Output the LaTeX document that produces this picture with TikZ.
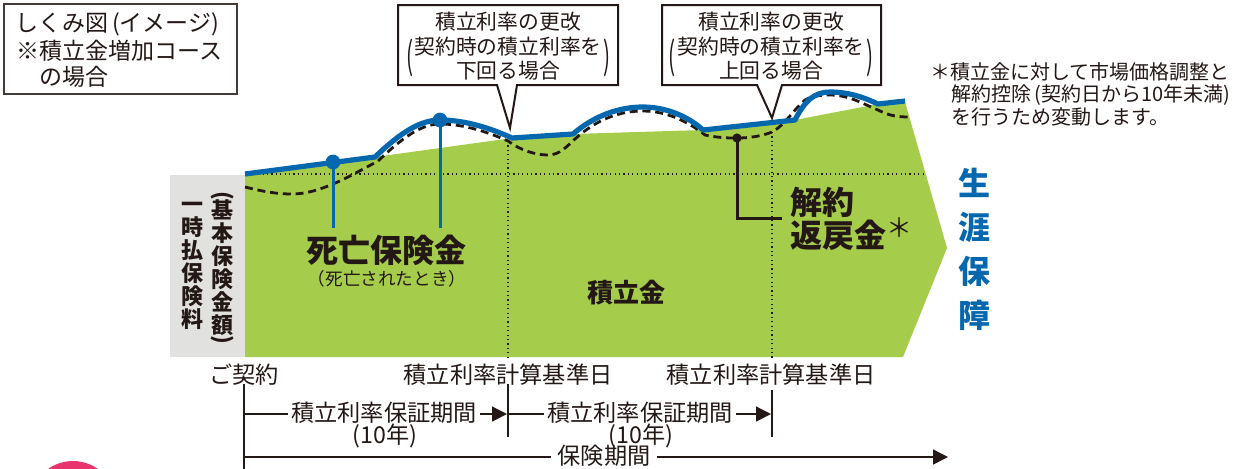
\documentclass[tikz,border=0pt]{standalone}
\usepackage{fontspec}
\setmainfont{Noto Sans CJK JP}
\usetikzlibrary{arrows.meta}
\definecolor{lgreen}{HTML}{A5CC4B}
\definecolor{lblue}{HTML}{0567AE}
\definecolor{lgray}{HTML}{E1E2E0}
\definecolor{ink}{HTML}{231815}
\definecolor{lpink}{HTML}{E8336E}
\begin{document}
\begin{tikzpicture}[x=0.5pt,y=-0.5pt,
  every node/.style={inner sep=0pt,text=ink},
  fbox/.style={font=\fontsize{11.5}{13}\selectfont},
  fcall/.style={font=\fontsize{10.4}{12}\selectfont},
  fnote/.style={font=\fontsize{10}{12}\selectfont},
  fbig/.style={font=\fontsize{16}{18}\selectfont\bfseries},
  fsmall/.style={font=\fontsize{8.8}{10}\selectfont},
  fmid/.style={font=\fontsize{13}{15}\selectfont\bfseries},
  ftime/.style={font=\fontsize{11.6}{13}\selectfont},
  fvert/.style={font=\fontsize{11}{11.5}\selectfont\bfseries, align=center},
  fvblue/.style={font=\fontsize{16}{22}\selectfont\bfseries, align=center, text=lblue},
  tline/.style={draw=ink, line width=0.65pt},
  dotline/.style={draw=ink, line width=0.6pt, dash pattern=on 0.6pt off 1.6pt},
  blueline/.style={draw=lblue, line width=2.6pt, line join=round},
  dashline/.style={draw=ink, line width=1.4pt, dash pattern=on 4pt off 2.4pt},
  callout/.style={draw=ink, fill=white, line width=1pt, line join=miter},
  tri/.style={-{Triangle[length=7.5pt,width=7.5pt]}},
]
\useasboundingbox (0,0) rectangle (1234,468);
\clip (0,0) rectangle (1234,468);

% pink circle
\fill[lpink] (73,504) circle[radius=21.5pt];

% top-left box
\draw[draw=ink!85, line width=0.8pt] (4,4) rectangle (237,94);
\node[fbox, anchor=west] (b1) at (15,24) {しくみ図\,(イメージ)};
\node[fbox, anchor=west] (b2) at (16,51) {※積立金増加コース};
\node[fbox, anchor=west] (b3) at (39,77) {の場合};

% areas
\fill[lgray] (170,175) rectangle (245,357);
\fill[lgreen] (245,174) -- (375,157) -- (512,138) -- (573,134) -- (703,130) -- (795,120) -- (878,104) -- (905,102) -- (947,248) -- (903,357) -- (245,357) -- cycle;

% dotted guides
\draw[dotline] (245,174) -- (925,174);
\draw[dotline] (508,141) -- (508,360);
\draw[dotline] (772,132) -- (772,360);

% dashed curve
\draw[dashline] (245,187) .. controls (265,192) and (278,194) .. (292,194)
  .. controls (320,194) and (350,176) .. (378,161)
  .. controls (400,140) and (420,124) .. (440,124)
  .. controls (465,124) and (490,133) .. (508,141)
  .. controls (520,150) and (535,155) .. (548,155)
  .. controls (560,155) and (567,146) .. (575,139)
  .. controls (597,119) and (620,111) .. (643,111)
  .. controls (668,111) and (690,123) .. (705,135)
  .. controls (720,138) and (728,138) .. (737,138)
  .. controls (750,138) and (762,136) .. (772,132)
  .. controls (785,125) and (795,108) .. (805,100)
  .. controls (812,96) and (820,95) .. (830,95)
  .. controls (850,95) and (865,105) .. (878,110)
  .. controls (888,115) and (895,117) .. (910,117);

% blue curve
\draw[blueline] (245,174) -- (375,157)
  .. controls (400,133) and (420,120) .. (440,120)
  .. controls (465,120) and (490,128) .. (512,138) -- (573,134)
  .. controls (595,115) and (620,107) .. (643,107)
  .. controls (668,107) and (690,118) .. (703,130) -- (795,120)
  .. controls (805,100) and (815,92) .. (830,92)
  .. controls (850,92) and (865,98) .. (878,104) -- (905,101);

% markers
\node[circle, fill=lblue, minimum size=7.4pt] (d1) at (333,162) {};
\coordinate (d1b) at (333,228);
\draw[lblue, line width=1.5pt] (d1.center) -- (d1b);
\node[circle, fill=lblue, minimum size=7.4pt] (d2) at (440,120) {};
\coordinate (d2b) at (440,228);
\draw[lblue, line width=1.5pt] (d2.center) -- (d2b);
\node[circle, fill=ink, minimum size=4.6pt] (d3) at (737,138) {};
\coordinate (d3b) at (737,218);
\coordinate (d3c) at (782,218);
\draw[ink, line width=1.5pt] (d3.center) -- (d3b) -- (d3c);

% texts in chart
\node[fbig] (shibo) at (386,250) {死亡保険金};
\node[fsmall] (shibo2) at (387,279) {（死亡されたとき）};
\node[fmid] (tsumi) at (626,293) {積立金};
\node[fbig, anchor=west] (kai1) at (790,202) {解約};
\node[fbig, anchor=west] (kai2) at (790,234) {返戻金\raisebox{0.3em}{\mdseries\fontsize{13}{13}\selectfont ＊}};

% vertical texts
\node[fvert] (v1) at (192,266) {一\\時\\払\\保\\険\\料};
\node[fvert] (v2) at (222,268) {基\\本\\保\\険\\金\\額};
\node[fvert, rotate=-90] (v2a) at (222,196) {(};
\node[fvert, rotate=-90] (v2b) at (222,340) {)};
\node[fvblue] (sho) at (974,249) {生\\涯\\保\\障};

% callout 1
\draw[callout] (398,5) -- (618,5) -- (618,85) -- (517,85) -- (510,128) -- (497,85) -- (398,85) -- cycle;
\node[fcall] (c1a) at (508,22) {積立利率の更改};
\node[fcall] (c1b) at (508,47) {契約時の積立利率を};
\node[fcall] (c1c) at (508,71) {下回る場合};
\node[fcall] (c1l) at (410,58) {\scalebox{1}[1.8]{(}};
\node[fcall] (c1r) at (607,58) {\scalebox{1}[1.8]{)}};

% callout 2
\draw[callout] (662,5) -- (881,5) -- (881,85) -- (782,85) -- (772,118) -- (757,85) -- (662,85) -- cycle;
\node[fcall] (c2a) at (771,22) {積立利率の更改};
\node[fcall] (c2b) at (771,47) {契約時の積立利率を};
\node[fcall] (c2c) at (771,71) {上回る場合};
\node[fcall] (c2l) at (672,58) {\scalebox{1}[1.8]{(}};
\node[fcall] (c2r) at (870,58) {\scalebox{1}[1.8]{)}};

% note
\node[fnote, anchor=west] (n1) at (930,72) {＊積立金に対して市場価格調整と};
\node[fnote, anchor=west] (n2) at (951,95) {解約控除\,(契約日から10年未満)};
\node[fnote, anchor=west] (n3) at (951,117) {を行うため変動します。};

% timeline labels
\node[ftime] (k0) at (244,375) {ご契約};
\node[ftime] (k1) at (508,375) {積立利率計算基準日};
\node[ftime] (k2) at (771,375) {積立利率計算基準日};

\coordinate (v0t) at (244,384);
\coordinate (v0b) at (244,470);
\coordinate (v1t) at (508,384);
\coordinate (v1b) at (508,437);
\coordinate (v2t) at (772,390);
\coordinate (v2b) at (772,437);
\draw[tline, line width=0.8pt] (v0t) -- (v0b);
\draw[tline, line width=0.8pt] (v1t) -- (v1b);
\draw[tline, line width=0.8pt] (v2t) -- (v2b);

\coordinate (a1s) at (244,414);
\coordinate (a1e) at (507,414);
\node[ftime, inner xsep=1.5pt] (p1) at (384,413) {積立利率保証期間};
\node[ftime] (p1b) at (385,436) {(10年)};
\draw[tline] (a1s) -- (a1s -| p1.west);
\draw[tline, tri] (a1e -| p1.east) -- (a1e);

\coordinate (a2s) at (508,414);
\coordinate (a2e) at (771,414);
\node[ftime, inner xsep=1.5pt] (p2) at (640,413) {積立利率保証期間};
\node[ftime] (p2b) at (641,436) {(10年)};
\draw[tline] (a2s) -- (a2s -| p2.west);
\draw[tline, tri] (a2e -| p2.east) -- (a2e);

\coordinate (a3s) at (244,457);
\coordinate (a3e) at (948,457);
\node[ftime, inner xsep=3pt] (p3) at (604,456) {保険期間};
\draw[tline] (a3s) -- (a3s -| p3.west);
\draw[tline, tri] (a3e -| p3.east) -- (a3e);
\end{tikzpicture}
\end{document}
